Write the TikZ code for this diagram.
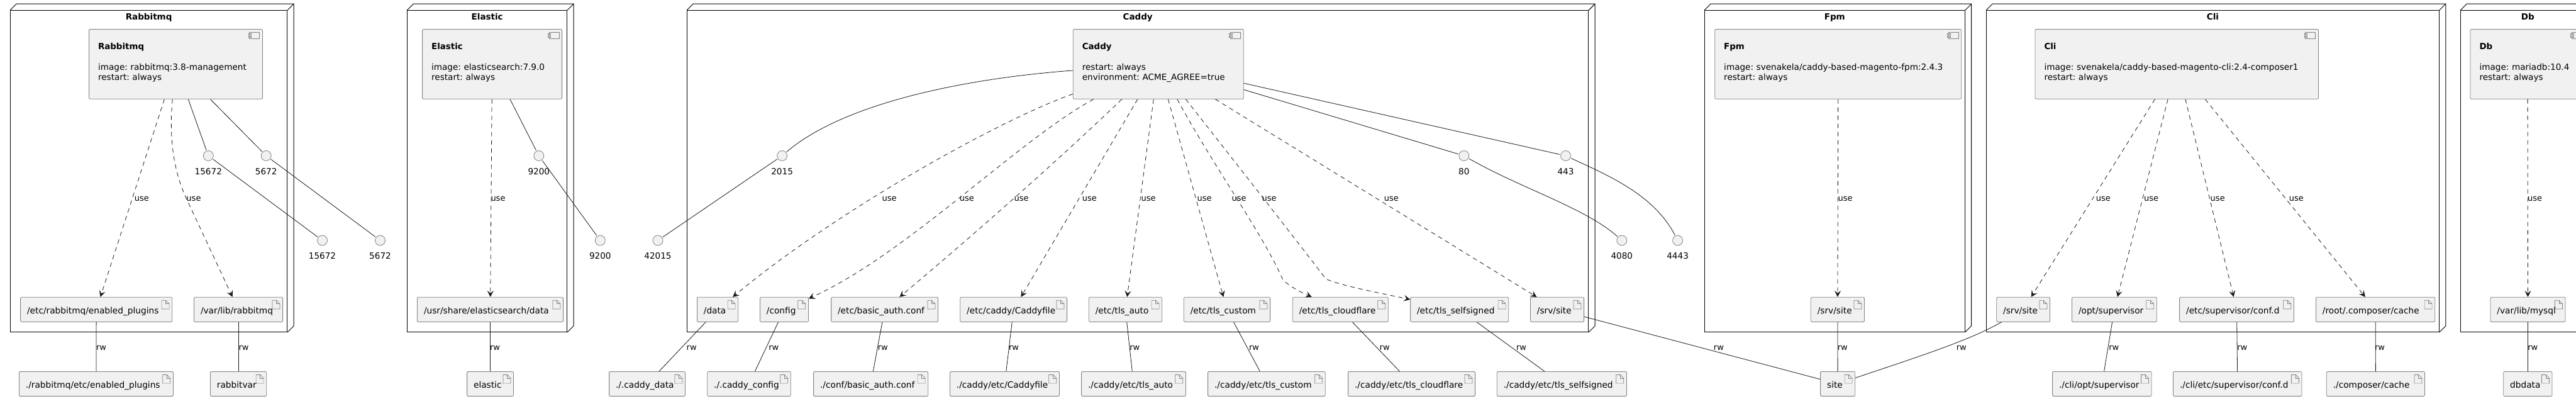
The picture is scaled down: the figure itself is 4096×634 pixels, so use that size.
\documentclass[tikz,border=0pt]{standalone}
\usepackage{fontspec}
\setmainfont{DejaVu Sans}
\usepackage{xcolor}
\usepackage{tikz}
\usetikzlibrary{arrows.meta,positioning}
\definecolor{boxfill}{RGB}{241, 241, 241}
\definecolor{boxline}{RGB}{130, 130, 130}
\definecolor{edgeline}{RGB}{24, 24, 24}
\tikzset{
  hostfront/.style={draw=black, line width=0.9pt, minimum height=510.7pt, inner sep=0pt},
  hostside/.style={draw=black, line width=0.9pt},
  hosttitle/.style={font=\fontsize{13.5}{16}\selectfont\bfseries, anchor=base, inner sep=0pt},
  component/.style={draw=boxline, fill=boxfill, line width=0.8pt, rounded corners=1.5pt,
    minimum width=#1, minimum height=110.8pt, inner xsep=14.5pt, inner ysep=0pt,
    text width=#1*1pt-29pt, align=left, font=\fontsize{13.6}{16.2}\selectfont\frenchspacing,
    execute at end node={\par\vspace*{4.6pt}},
    path picture={
      \draw[line width=0.7pt, boxline, rounded corners=0pt]
        ([shift={(-20.7pt,-4.5pt)}]path picture bounding box.north east) rectangle
        ([shift={(-4.7pt,-14.8pt)}]path picture bounding box.north east);
      \draw[line width=0.7pt, boxline, fill=boxfill, rounded corners=0pt]
        ([shift={(-22.4pt,-6.8pt)}]path picture bounding box.north east) rectangle
        ([shift={(-17.8pt,-9.2pt)}]path picture bounding box.north east);
      \draw[line width=0.7pt, boxline, fill=boxfill, rounded corners=0pt]
        ([shift={(-22.4pt,-10.6pt)}]path picture bounding box.north east) rectangle
        ([shift={(-17.8pt,-13pt)}]path picture bounding box.north east);
    }},
  artifact/.style={draw=boxline, fill=boxfill, line width=0.8pt, rounded corners=1.5pt,
    minimum width=#1, minimum height=39.2pt, inner xsep=10.5pt, inner ysep=0pt,
    text width=#1*1pt-21pt, align=left, text height=12.2pt, text depth=0pt,
    font=\fontsize{13.7}{16}\selectfont,
    path picture={
      \draw[line width=0.7pt, boxline, rounded corners=0pt]
        ([shift={(-16.6pt,-5pt)}]path picture bounding box.north east) --
        ([shift={(-10pt,-5pt)}]path picture bounding box.north east) --
        ([shift={(-4.6pt,-10.5pt)}]path picture bounding box.north east) --
        ([shift={(-4.6pt,-18.7pt)}]path picture bounding box.north east) --
        ([shift={(-16.6pt,-18.7pt)}]path picture bounding box.north east) -- cycle;
      \draw[line width=0.7pt, boxline, rounded corners=0pt]
        ([shift={(-10pt,-5pt)}]path picture bounding box.north east) --
        ([shift={(-10pt,-10.5pt)}]path picture bounding box.north east) --
        ([shift={(-4.6pt,-10.5pt)}]path picture bounding box.north east);
    }},
  port/.style={circle, draw=boxline, fill=boxfill, line width=0.8pt, minimum size=16pt,
    inner sep=0pt, outer sep=1.5pt},
  portlabel/.style={font=\fontsize{13.6}{16}\selectfont, inner sep=0pt, label distance=9.8pt},
  edgetext/.style={font=\fontsize{13}{15}\selectfont, inner sep=0pt},
  useedge/.style={draw=edgeline, line width=0.8pt, dash pattern=on 7pt off 6pt, ->},
  rwedge/.style={draw=edgeline, line width=0.8pt},
  portedge/.style={draw=edgeline, line width=0.8pt},
}
% name, left, right, title
\newcommand{\hostbox}[4]{
  \node[hostfront, minimum width={#3-#2}] (#1) at ({(#2+#3)/2},272) {};
  \draw[hostside] (#1.north west) -- ([shift={(10pt,10pt)}]#1.north west)
    -- ([shift={(10pt,10pt)}]#1.north east) -- ([shift={(10pt,10pt)}]#1.south east)
    -- (#1.south east);
  \draw[hostside] (#1.north east) -- ([shift={(10pt,10pt)}]#1.north east);
  \node[hosttitle] (#1title) at ([yshift=-15pt]#1.north) {#4};
}
\newcommand{\comptitle}[1]{{\fontsize{13.4}{16.2}\selectfont\bfseries #1}}

\begin{document}
\begin{tikzpicture}[x=1pt, y=-1pt, >={Stealth[length=10pt, width=10pt, inset=4pt]}]
        \useasboundingbox (0,0) rectangle (4096,634);
        \clip (0,0) rectangle (4096,634);

        % Hosts
        \hostbox{rabbithost}{16.5}{456.7}{Rabbitmq}
        \hostbox{elastichost}{647.7}{901.7}{Elastic}
        \hostbox{caddyhost}{1092.6}{2525.7}{Caddy}
        \hostbox{fpmhost}{2710.4}{3124.2}{Fpm}
        \hostbox{clihost}{3158.5}{3878.4}{Cli}
        \hostbox{dbhost}{3912.7}{4126}{Db}

        % Components
        \node[component=275.9] (rabbit) at (279.45,101.9) {\comptitle{Rabbitmq}\\[16.2pt]image: rabbitmq:3.8-management\\restart: always};
        \node[component=222] (elastic) at (782.6,101.9) {\comptitle{Elastic}\\[16.2pt]image: elasticsearch:7.9.0\\restart: always};
        \node[component=270.9] (caddy) at (1841.75,101.9) {\comptitle{Caddy}\\[16.2pt]restart: always\\environment: ACME\_AGREE=true};
        \node[component=392.1] (fpm) at (2922.75,101.9) {\comptitle{Fpm}\\[16.2pt]image: svenakela/caddy-based-magento-fpm:2.4.3\\restart: always};
        \node[component=450.5] (cli) at (3461.25,101.9) {\comptitle{Cli}\\[16.2pt]image: svenakela/caddy-based-magento-cli:2.4-composer1\\restart: always};
        \node[component=182] (db) at (4019,101.9) {\comptitle{Db}\\[16.2pt]image: mariadb:10.4\\restart: always};

        % Mount points inside the hosts
        \node[artifact=241.1] (rabbitplugins) at (153.15,491.9) {/etc/rabbitmq/enabled\_plugins};
        \node[artifact=141.1] (rabbitlib) at (379.05,491.9) {/var/lib/rabbitmq};
        \node[artifact=232.1] (elasticdata) at (779.55,491.9) {/usr/share/elasticsearch/data};
        \node[artifact=65.3] (caddydata) at (1141.05,491.9) {/data};
        \node[artifact=77] (caddyconfig) at (1246.9,491.9) {/config};
        \node[artifact=169.9] (caddyauth) at (1406.55,491.9) {/etc/basic\_auth.conf};
        \node[artifact=169.9] (caddyfile) at (1611.65,491.9) {/etc/caddy/Caddyfile};
        \node[artifact=116.4] (tlsauto) at (1789.5,491.9) {/etc/tls\_auto};
        \node[artifact=137.3] (tlscustom) at (1950.95,491.9) {/etc/tls\_custom};
        \node[artifact=152] (tlscloud) at (2131.3,491.9) {/etc/tls\_cloudflare};
        \node[artifact=156.1] (tlsself) at (2320.65,491.9) {/etc/tls\_selfsigned};
        \node[artifact=85.2] (caddysite) at (2476,491.9) {/srv/site};
        \node[artifact=85.2] (fpmsite) at (2921.9,491.9) {/srv/site};
        \node[artifact=84.8] (clisite) at (3217.1,491.9) {/srv/site};
        \node[artifact=134.7] (clisuper) at (3361.85,491.9) {/opt/supervisor};
        \node[artifact=181.8] (cliconf) at (3556.5,491.9) {/etc/supervisor/conf.d};
        \node[artifact=189.3] (clicache) at (3777.05,491.9) {/root/.composer/cache};
        \node[artifact=119.1] (dbmysql) at (4019.45,491.9) {/var/lib/mysql};

        % Volumes outside the hosts
        \node[artifact=245] (volplugins) at (152.9,610) {./rabbitmq/etc/enabled\_plugins};
        \node[artifact=89.3] (volrabbit) at (379.05,610) {rabbitvar};
        \node[artifact=73.9] (volelastic) at (779.55,610) {elastic};
        \node[artifact=120.9] (voldata) at (1029.05,610) {./.caddy\_data};
        \node[artifact=132.6] (volconfig) at (1191,610) {./.caddy\_config};
        \node[artifact=182.1] (volauth) at (1384.65,610) {./conf/basic\_auth.conf};
        \node[artifact=174] (volfile) at (1597.4,610) {./caddy/etc/Caddyfile};
        \node[artifact=165.8] (volauto) at (1802.5,610) {./caddy/etc/tls\_auto};
        \node[artifact=186.7] (volcustom) at (2013.95,610) {./caddy/etc/tls\_custom};
        \node[artifact=202] (volcloud) at (2244.6,610) {./caddy/etc/tls\_cloudflare};
        \node[artifact=206.1] (volself) at (2483.35,610) {./caddy/etc/tls\_selfsigned};
        \node[artifact=55.1] (volsite) at (2922.15,610) {site};
        \node[artifact=157.4] (volsuper) at (3342.3,610) {./cli/opt/supervisor};
        \node[artifact=204.5] (volconf) at (3557.75,610) {./cli/etc/supervisor/conf.d};
        \node[artifact=156.2] (volcache) at (3777.4,610) {./composer/cache};
        \node[artifact=77.3] (voldb) at (4019.35,610) {dbdata};

        % Ports
        \node[port, label={[portlabel]below:15672}] (inrabbitmgmt) at (331.3,247.5) {};
        \node[port, label={[portlabel]below:5672}] (inrabbit) at (423.2,247.5) {};
        \node[port, label={[portlabel]below:15672}] (outrabbitmgmt) at (512.5,382) {};
        \node[port, label={[portlabel]below:5672}] (outrabbit) at (604.5,382) {};
        \node[port, label={[portlabel]below:9200}] (inelastic) at (856.8,247.5) {};
        \node[port, label={[portlabel]below:9200}] (outelastic) at (954.3,382) {};
        \node[port, label={[portlabel]below:2015}] (inadmin) at (1243.6,247.5) {};
        \node[port, label={[portlabel]below:42015}] (outadmin) at (1046,382) {};
        \node[port, label={[portlabel]below:80}] (inhttp) at (2327.8,247.5) {};
        \node[port, label={[portlabel]below:4080}] (outhttp) at (2578.8,382) {};
        \node[port, label={[portlabel]below:443}] (inhttps) at (2489.5,247.5) {};
        \node[port, label={[portlabel]below:4443}] (outhttps) at (2667.6,382) {};

        % Port connectors
        \draw[portedge] (rabbit) -- (inrabbitmgmt);
        \draw[portedge] (rabbit) -- (inrabbit);
        \draw[portedge] (inrabbitmgmt) -- (outrabbitmgmt);
        \draw[portedge] (inrabbit) -- (outrabbit);
        \draw[portedge] (elastic) -- (inelastic);
        \draw[portedge] (inelastic) -- (outelastic);
        \draw[portedge] (caddy) .. controls (1530,125) and (1340,165) .. (inadmin);
        \draw[portedge] (inadmin) -- (outadmin);
        \draw[portedge] (caddy) -- (inhttp);
        \draw[portedge] (inhttp) .. controls (2420,300) and (2520,330) .. (outhttp);
        \draw[portedge] (caddy) -- (inhttps);
        \draw[portedge] (inhttps) .. controls (2560,280) and (2630,310) .. (outhttps);

        % Use connectors
        \draw[useedge] (rabbit) -- (rabbitplugins);
        \draw[useedge] (rabbit) .. controls (269,215) and (274,269) .. (298,319) -- (rabbitlib);
        \draw[useedge] (elastic) -- (elasticdata);
        \draw[useedge] (caddy) .. controls (1590,190) and (1330,335) .. (caddydata);
        \draw[useedge] (caddy) .. controls (1620,222) and (1440,405) .. (caddyconfig);
        \draw[useedge] (caddy) .. controls (1698,240) and (1564,360) .. (caddyauth);
        \draw[useedge] (caddy) -- (caddyfile);
        \draw[useedge] (caddy) -- (tlsauto);
        \draw[useedge] (caddy) -- (tlscustom);
        \draw[useedge] (caddy) .. controls (1930,265) and (2010,375) .. (2040,445) .. controls (2055,458) and (2070,465) .. (tlscloud);
        \draw[useedge] (caddy) .. controls (1950,240) and (2060,380) .. (2108,443) .. controls (2125,452) and (2190,465) .. (tlsself);
        \draw[useedge] (caddy) -- (caddysite);
        \draw[useedge] (fpm) -- (fpmsite);
        \draw[useedge] (cli) -- (clisite);
        \draw[useedge] (cli) -- (clisuper);
        \draw[useedge] (cli) -- (cliconf);
        \draw[useedge] (cli) -- (clicache);
        \draw[useedge] (db) -- (dbmysql);

        % Volume connectors
        \draw[rwedge] (rabbitplugins) -- (volplugins);
        \draw[rwedge] (rabbitlib) -- (volrabbit);
        \draw[rwedge] (elasticdata) -- (volelastic);
        \draw[rwedge] (caddydata) -- (voldata);
        \draw[rwedge] (caddyconfig) -- (volconfig);
        \draw[rwedge] (caddyauth) -- (volauth);
        \draw[rwedge] (caddyfile) -- (volfile);
        \draw[rwedge] (tlsauto) -- (volauto);
        \draw[rwedge] (tlscustom) -- (volcustom);
        \draw[rwedge] (tlscloud) -- (volcloud);
        \draw[rwedge] (tlsself) -- (volself);
        \draw[rwedge] (caddysite) -- (volsite);
        \draw[rwedge] (fpmsite) -- (volsite);
        \draw[rwedge] (clisite) .. controls (3130,542) and (3040,570) .. (volsite);
        \draw[rwedge] (clisuper) -- (volsuper);
        \draw[rwedge] (cliconf) -- (volconf);
        \draw[rwedge] (clicache) -- (volcache);
        \draw[rwedge] (dbmysql) -- (voldb);

        % Labels for use
        \node[edgetext] (userabbitA) at (225.4,316) {use};
        \node[edgetext] (userabbitB) at (308,316) {use};
        \node[edgetext] (useelastic) at (792,316) {use};
        \node[edgetext] (usedata) at (1414,316) {use};
        \node[edgetext] (useconfig) at (1537.4,316) {use};
        \node[edgetext] (useauth) at (1624.2,316) {use};
        \node[edgetext] (usefile) at (1732.3,316) {use};
        \node[edgetext] (useauto) at (1826.2,316) {use};
        \node[edgetext] (usecustom) at (1915,316) {use};
        \node[edgetext] (usecloud) at (1970,316) {use};
        \node[edgetext] (useself) at (2018,316) {use};
        \node[edgetext] (usesite) at (2212.4,316) {use};
        \node[edgetext] (usefpm) at (2934,316) {use};
        \node[edgetext] (useclisite) at (3344.4,316) {use};
        \node[edgetext] (useclisuper) at (3420.5,316) {use};
        \node[edgetext] (usecliconf) at (3526.2,316) {use};
        \node[edgetext] (useclicache) at (3651.4,316) {use};
        \node[edgetext] (usedb) at (4030.6,316) {use};

        % Labels for rw
        \node[edgetext] (rwplugins) at (161,552.7) {rw};
        \node[edgetext] (rwrabbit) at (387.5,552.7) {rw};
        \node[edgetext] (rwelastic) at (787,552.7) {rw};
        \node[edgetext] (rwdata) at (1099.7,552.7) {rw};
        \node[edgetext] (rwconfig) at (1230.3,552.7) {rw};
        \node[edgetext] (rwauth) at (1403.8,552.7) {rw};
        \node[edgetext] (rwfile) at (1612,552.7) {rw};
        \node[edgetext] (rwauto) at (1804.3,552.7) {rw};
        \node[edgetext] (rwcustom) at (1994,552.7) {rw};
        \node[edgetext] (rwcloud) at (2201.7,552.7) {rw};
        \node[edgetext] (rwself) at (2419,552.7) {rw};
        \node[edgetext] (rwsite) at (2732.9,552.7) {rw};
        \node[edgetext] (rwfpm) at (2929.8,552.7) {rw};
        \node[edgetext] (rwclisite) at (3118.8,552.7) {rw};
        \node[edgetext] (rwsuper) at (3361.2,552.7) {rw};
        \node[edgetext] (rwconf) at (3565.3,552.7) {rw};
        \node[edgetext] (rwcache) at (3784,552.7) {rw};
        \node[edgetext] (rwdb) at (4027.2,552.7) {rw};
      \end{tikzpicture}
\end{document}
